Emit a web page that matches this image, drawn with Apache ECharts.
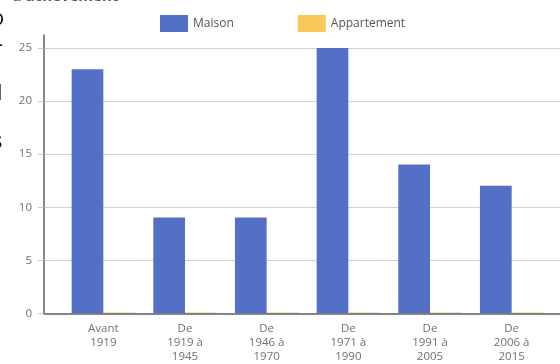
<!DOCTYPE html>
<html>
<head>
<meta charset="utf-8">
<script src="https://cdn.jsdelivr.net/npm/echarts@6/dist/echarts.min.js"></script>
<style>
  html, body { margin: 0; padding: 0; background: #fff; }
  #chart { width: 560px; height: 364px; }
</style>
</head>
<body>
<div id="chart"></div>
<script>
// Construction periods (x categories)
const periods = [
  'Avant\n1919',
  'De\n1919 à\n1945',
  'De\n1946 à\n1970',
  'De\n1971 à\n1990',
  'De\n1991 à\n2005',
  'De\n2006 à\n2015'
];
// Share per period
const maison = [23, 9, 9, 25, 14, 12];
const appartement = [0, 0, 0, 0, 0, 0];
// Value axis ticks
const yTicks = [0, 5, 10, 15, 20, 25];

const seriesNames = ['Maison', 'Appartement'];
const colors = ['#5470c6', '#fac858'];
const axisColor = '#5d616c';
const labelColor = '#6e7079';
const font = '"Open Sans", "Noto Sans", sans-serif';

const chart = echarts.init(document.getElementById('chart'), null, { renderer: 'canvas' });

const yMin = yTicks[0];
const yMax = yTicks[yTicks.length - 1];
const yStep = yTicks[1] - yTicks[0];

chart.setOption({
  animation: false,
  color: colors,
  textStyle: { fontFamily: font },
  legend: {
    data: seriesNames.map((name, i) => ({ name, itemStyle: { color: colors[i], opacity: 1 } })),
    icon: 'rect',
    left: 160,
    top: 15,
    padding: 0,
    itemWidth: 28,
    itemHeight: 17,
    itemGap: 64,
    textStyle: { fontSize: 12, color: '#555', fontFamily: font }
  },
  grid: [
    // frame carrying the vertical axis line (reaches a little above the top tick)
    { left: 44, right: 0, top: 35, bottom: 50.5 },
    // value scale: labels, ticks, split lines, baseline
    { left: 44, right: 0, top: 48, bottom: 50.5 },
    // bars
    { left: 62.5, right: 7.5, top: 48, bottom: 50.5 }
  ],
  xAxis: [
    { gridIndex: 0, type: 'value', show: false },
    {
      gridIndex: 1, type: 'value', min: 0, max: 1,
      axisLine: { show: true, lineStyle: { color: axisColor, width: 1.5 } },
      axisTick: { show: false }, axisLabel: { show: false }, splitLine: { show: false }
    },
    {
      gridIndex: 2, type: 'category', data: periods,
      axisLine: { show: false }, axisTick: { show: false },
      axisLabel: {
        fontSize: 11.5, lineHeight: 14, color: labelColor, margin: 9,
        fontFamily: font, interval: 0
      }
    }
  ],
  yAxis: [
    {
      gridIndex: 0, type: 'value', min: 0, max: 1,
      axisLine: { show: true, lineStyle: { color: axisColor, width: 1.5 } },
      axisTick: { show: false }, axisLabel: { show: false }, splitLine: { show: false }
    },
    {
      gridIndex: 1, type: 'value', min: yMin, max: yMax, interval: yStep,
      axisLine: { show: false },
      axisTick: { show: true, inside: false, length: 6, lineStyle: { color: '#c8c8c8' } },
      axisLabel: { fontSize: 11.5, color: labelColor, margin: 12, fontFamily: font },
      splitLine: { show: true, lineStyle: { color: '#d2d2d2', width: 1 } }
    },
    { gridIndex: 2, type: 'value', min: yMin, max: yMax, show: false }
  ],
  series: [
    {
      name: seriesNames[0], type: 'bar', xAxisIndex: 2, yAxisIndex: 2,
      data: maison, barWidth: 31.7, barGap: '0%'
    },
    {
      name: seriesNames[1], type: 'bar', xAxisIndex: 2, yAxisIndex: 2,
      data: appartement, barWidth: 31.7, barGap: '0%', barMinHeight: 1,
      itemStyle: { color: 'rgba(250, 200, 88, 0.5)' }
    }
  ],
  graphic: [
    {
      type: 'text', left: 12, top: -11,
      style: { text: "d'achèvement", fontSize: 15, fontWeight: 'bold', fill: '#555', fontFamily: font }
    },
    { type: 'text', left: -9, top: 8, style: { text: 'o', fontSize: 22, fill: '#111', fontFamily: font } },
    { type: 'text', left: -4, top: 34, style: { text: '-', fontSize: 22, fill: '#111', fontFamily: font } },
    { type: 'text', left: -3, top: 83, style: { text: 'l', fontSize: 22, fill: '#111', fontFamily: font } },
    { type: 'text', left: -8, top: 131, style: { text: 's', fontSize: 22, fill: '#111', fontFamily: font } }
  ]
});
</script>
</body>
</html>
